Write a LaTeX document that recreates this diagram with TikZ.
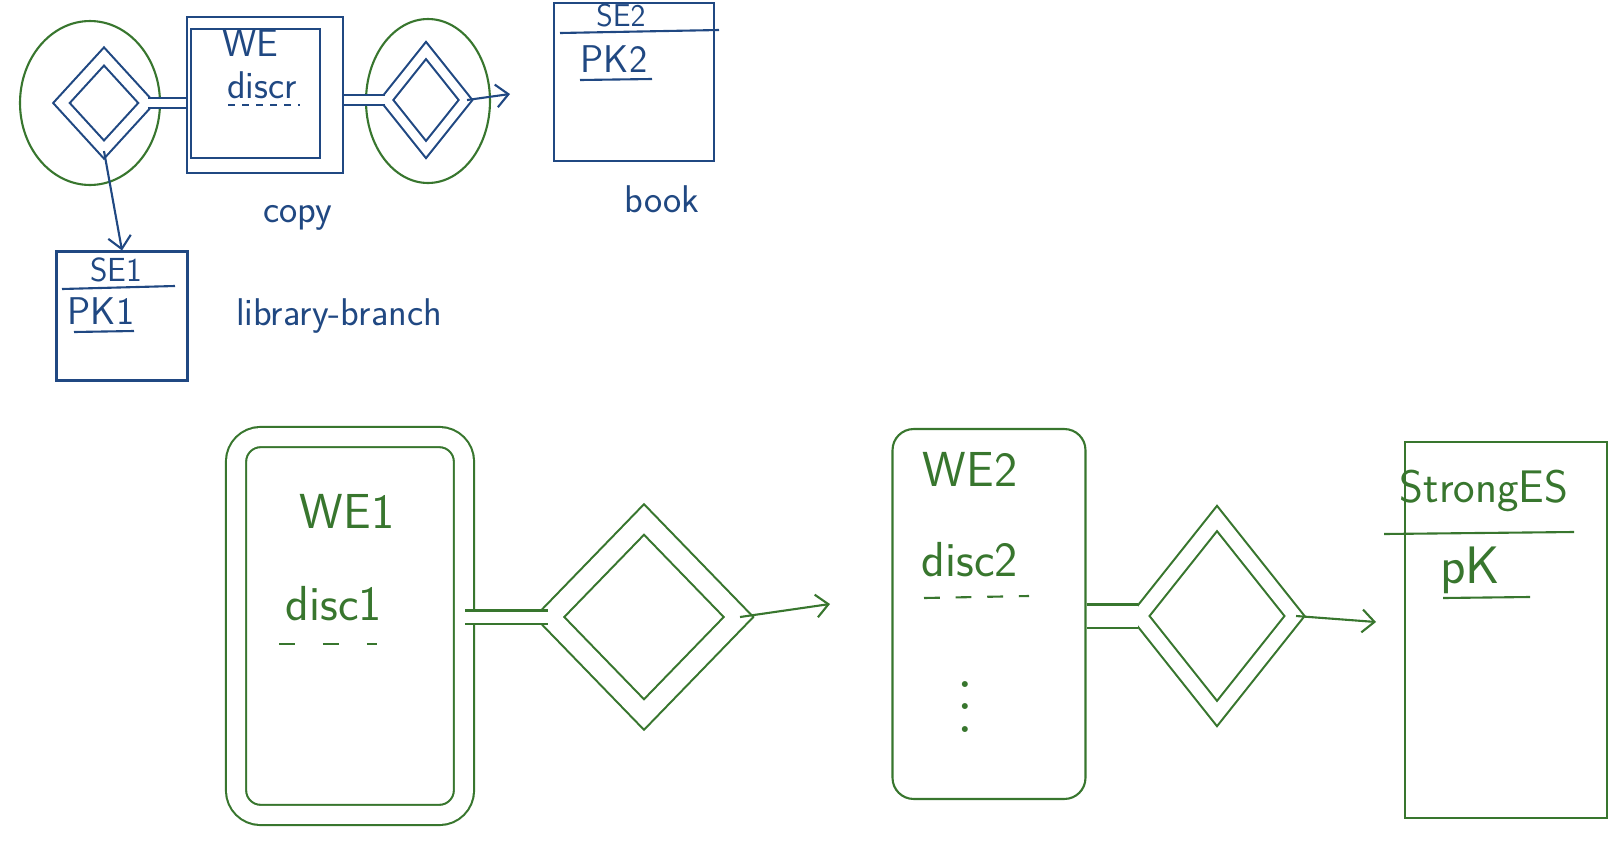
\documentclass[tikz,border=0pt]{standalone}
\usetikzlibrary{shapes.geometric,arrows.meta}
\definecolor{inkblue}{RGB}{32,72,130}
\definecolor{inkgreen}{RGB}{56,118,46}
\begin{document}
\begin{tikzpicture}[x=0.02cm, y=-0.02cm, line width=1.2pt,
    >={Straight Barb[length=7pt,width=13pt]},
    ent/.style={draw, rectangle, inner sep=0pt},
    weak/.style={ent, double, double distance=#1},
    rel/.style={draw, diamond, inner sep=0pt, double, double distance=#1},
    ring/.style={draw=inkgreen, ellipse, inner sep=0pt},
    link/.style={double, double distance=#1},
    hand/.style={font=\sffamily\fontsize{#1}{#1}\selectfont, inner sep=0pt}]
  \useasboundingbox (0,0) rectangle (1610,866);

  % top sketch
  \begin{scope}[inkblue]
    \node[ring, minimum width=2.8cm, minimum height=3.28cm] (ownring) at (90,103) {};
    \node[ring, minimum width=2.48cm, minimum height=3.28cm] (ofring) at (428,101) {};
    \node[rel=0.2cm, minimum width=1.72cm, minimum height=1.88cm] (owns) at (104,103) {};
    \node[rel=0.17cm, minimum width=1.6cm, minimum height=2cm] (of) at (426,100) {};
    \node[ent, minimum width=3.12cm, minimum height=3.12cm] (copy) at (265,95) {};
    \node[ent, minimum width=2.58cm, minimum height=2.58cm] (copyin) at (255.5,93.5) {};
    \node[ent, minimum width=3.2cm, minimum height=3.16cm] (book) at (634,82) {};
    \node[ent, minimum width=2.62cm, minimum height=2.58cm] (branch) at (122,316) {};

    \node[hand=22pt] (copyname) at (250,43) {WE};
    \node[hand=22pt] (copydiscr) at (262,85) {discr};
    \draw[line width=1pt, dash pattern=on 4pt off 4pt] (228,105) -- (300,105);
    \node[hand=22pt] (copylabel) at (298,218) {copy};

    \node[hand=18pt] (bookname) at (621,16) {SE2};
    \draw (560,33) -- (719,30);
    \node[hand=22pt] (bookkey) at (614,59) {PK2};
    \draw (580,80) -- (652,79);
    \node[hand=22pt] (booklabel) at (662,199) {book};

    \node[hand=19pt] (branchname) at (116,270) {SE1};
    \draw (62,289) -- (175,286);
    \node[hand=22pt] (branchkey) at (101,311) {PK1};
    \draw (74,332) -- (134,331);
    \node[hand=22pt] (branchlabel) at (339,316) {library-branch};

    \draw[link=0.15cm] (owns.east) -- (owns.east -| copy.west);
    \draw[link=0.15cm] (copy.east |- of.west) -- (of.west);
    \coordinate (ofend) at (510,94);
    \draw[->] (of.east) -- (ofend);
    \draw[->] (owns.south) -- (branch.north);
  \end{scope}

  % bottom sketch
  \begin{scope}[inkgreen]
    \node[weak=0.36cm, rounded corners=14pt, minimum width=4.56cm, minimum height=7.56cm] (we1) at (350,626) {};
    \node[ent, rounded corners=12pt, minimum width=3.86cm, minimum height=7.4cm] (we2) at (989,614) {};
    \node[ent, minimum width=4.04cm, minimum height=7.52cm] (strong) at (1506,630) {};
    \node[rel=0.38cm, minimum width=3.8cm, minimum height=3.92cm] (rel1) at (644,617) {};
    \node[rel=0.27cm, minimum width=3.12cm, minimum height=3.92cm] (rel2) at (1217,616) {};

    \node[hand=28pt] (we1name) at (347,511) {WE1};
    \node[hand=28pt] (we1disc) at (334,604) {disc1};
    \draw[dash pattern=on 9pt off 16pt] (279,644) -- (377,644);

    \node[hand=28pt] (we2name) at (970,469) {WE2};
    \node[hand=28pt] (we2disc) at (970,560) {disc2};
    \draw[dash pattern=on 9pt off 9pt] (924,598) -- (1029,596);
    \node[scale=3.2] (we2more) at (965,690) {$\vdots$};

    \node[hand=26pt] (strongname) at (1484,491) {StrongES};
    \draw (1384,534) -- (1574,532);
    \node[hand=30pt] (strongkey) at (1470,570) {pK};
    \draw (1443,598) -- (1530,597);

    \draw[link=0.22cm] (we1.east |- rel1.west) -- (rel1.west);
    \coordinate (rel1end) at (830,604);
    \draw[->] (rel1.east) -- (rel1end);
    \draw[link=0.42cm] (we2.east |- rel2.west) -- (rel2.west);
    \coordinate (rel2end) at (1376,622);
    \draw[->] (rel2.east) -- (rel2end);
  \end{scope}
\end{tikzpicture}
\end{document}
